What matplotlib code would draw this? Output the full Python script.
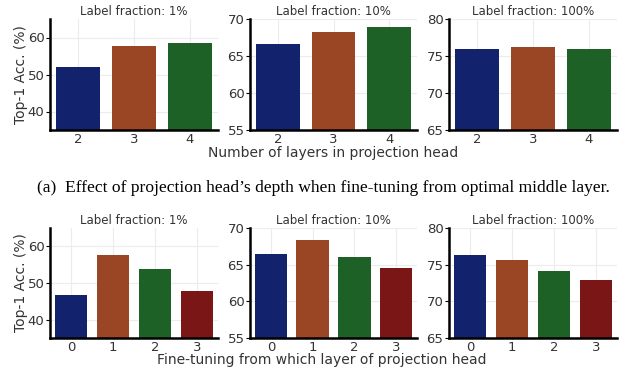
import matplotlib
matplotlib.use("Agg")
import matplotlib.pyplot as plt
import numpy as np

# Data
top_cats = ["2", "3", "4"]
top_1pct = [52.1, 57.6, 58.4]
top_10pct = [66.6, 68.3, 68.95]
top_100pct = [75.95, 76.2, 76.0]

bot_cats = ["0", "1", "2", "3"]
bot_1pct = [46.7, 57.7, 53.8, 47.8]
bot_10pct = [66.4, 68.4, 66.0, 64.5]
bot_100pct = [76.3, 75.7, 74.1, 72.9]

titles = ["Label fraction: 1%", "Label fraction: 10%", "Label fraction: 100%"]
ylims = [(35, 65), (55, 70), (65, 80)]
yticks = [[40, 50, 60], [55, 60, 65, 70], [65, 70, 75, 80]]
colors = ["#13226c", "#9a4625", "#1e6127", "#7a1616"]

txt = "#333333"
fig = plt.figure(figsize=(6.4, 3.74), dpi=100)

xs = [(50, 218), (250, 417), (449, 617)]
rows = [((19, 130), top_cats, [top_1pct, top_10pct, top_100pct]),
        ((228, 338), bot_cats, [bot_1pct, bot_10pct, bot_100pct])]

for (ytop, ybot), cats, series in rows:
    for j, (vals, (xl, xr)) in enumerate(zip(series, xs)):
        ax = fig.add_axes([xl / 640, 1 - ybot / 374, (xr - xl) / 640, (ybot - ytop) / 374])
        x = np.arange(len(cats))
        ax.bar(x, vals, width=0.78, color=colors[:len(cats)], zorder=2)
        ax.set_xlim(-0.5, len(cats) - 0.5)
        ax.set_ylim(*ylims[j])
        ax.set_yticks(yticks[j])
        ax.set_xticks(x)
        ax.set_xticklabels(cats)
        ax.grid(True, color="#ececec", linewidth=0.8, zorder=0)
        for s in ["top", "right"]:
            ax.spines[s].set_visible(False)
        for s in ["left", "bottom"]:
            ax.spines[s].set_linewidth(1.8)
            ax.spines[s].set_color("black")
        ax.tick_params(axis="y", length=3, width=0.8, pad=1, labelsize=9.5, colors=txt)
        ax.tick_params(axis="y", color="black")
        ax.tick_params(axis="x", length=0, pad=2, labelsize=9.5, labelcolor=txt)
        ax.set_title(titles[j], fontsize=8.5, color=txt, pad=3)
        if j == 0:
            ax.set_ylabel("Top-1 Acc. (%)", fontsize=10, color=txt, labelpad=0)

fig.text(333 / 640, 1 - 153 / 374, "Number of layers in projection head",
         ha="center", va="center", fontsize=10, color=txt)
fig.text(322 / 640, 1 - 360 / 374, "Fine-tuning from which layer of projection head",
         ha="center", va="center", fontsize=10, color=txt)
fig.text(323 / 640, 1 - 188 / 374,
         "(a)  Effect of projection head\u2019s depth when fine-tuning from optimal middle layer.",
         ha="center", va="center", fontsize=12.6, family="Liberation Serif", color="black")

fig.savefig("out.png", dpi=100)
